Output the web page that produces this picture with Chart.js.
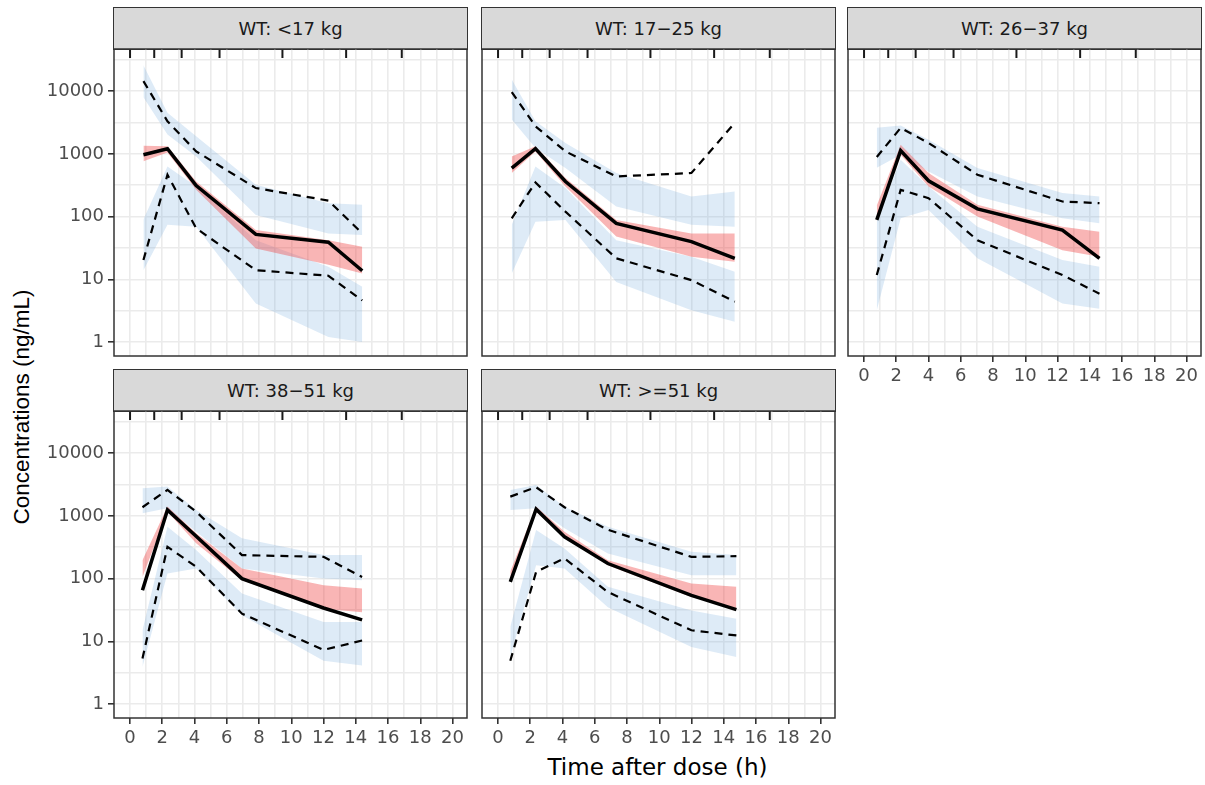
<!DOCTYPE html>
<html>
<head>
<meta charset="utf-8">
<title>VPC by weight band</title>
<script src="https://cdn.jsdelivr.net/npm/chart.js@4.4.1/dist/chart.umd.min.js"></script>
<style>
  html, body { margin: 0; padding: 0; background: #fff; }
  body { width: 1205px; height: 785px; position: relative; overflow: hidden; font-family: 'DejaVu Sans', sans-serif; }
  canvas { position: absolute; }
  .strip { position: absolute; box-sizing: border-box; background: #d9d9d9; border: 1.5px solid #333; color: #1a1a1a; font-size: 18px; display: flex; align-items: center; justify-content: center; }
  .xtitle { position: absolute; left: 114px; width: 1087px; top: 756px; text-align: center; font-size: 23px; line-height: 23px; color: #000; }
  .ytitle { position: absolute; left: -178px; width: 400px; top: 394px; height: 26px; line-height: 26px; text-align: center; font-family: 'Liberation Sans', Arial, sans-serif; font-size: 22.5px; color: #000; transform: rotate(-90deg); }
</style>
</head>
<body>
<div class="xtitle">Time after dose (h)</div>
<div class="ytitle">Concentrations (ng/mL)</div>
<script>
// facet labels
const panelLabels = ['WT: <17 kg', 'WT: 17\u221225 kg', 'WT: 26\u221237 kg', 'WT: 38\u221251 kg', 'WT: >=51 kg'];

// bin midpoints (h), one row per weight band
const binTime = [
  [0.83, 2.32, 4.1, 7.8, 12.3, 14.4],
  [0.85, 2.32, 4.18, 7.33, 11.99, 14.68],
  [0.79, 2.27, 4.0, 7.03, 12.3, 14.6],
  [0.77, 2.32, 4.1, 6.94, 12.0, 14.39],
  [0.76, 2.36, 4.12, 6.81, 11.99, 14.78]
];

// observed percentiles
const obsMedian = [
  [970, 1210, 313, 52, 39, 13.7],
  [595, 1211, 363, 78, 40, 21.6],
  [88.6, 1125, 373, 133, 61, 21.6],
  [65, 1243, 472, 100, 34, 22],
  [88.6, 1276, 465, 174, 54, 32]
];
const obsP95 = [
  [14450, 3311, 1096, 285, 180, 54],
  [9640, 2754, 1096, 437, 495, 3120],
  [892, 2595, 1494, 465, 174, 164],
  [1373, 2595, 1167, 237, 222, 106],
  [2028, 2868, 1373, 600, 222, 228]
];
const obsP5 = [
  [20.3, 465, 65, 14, 11.4, 4.6],
  [94, 350, 120, 21.6, 9.7, 4.4],
  [11.7, 267, 197, 42, 11.7, 5.9],
  [5.3, 321, 154, 27.6, 7.3, 10.3],
  [4.9, 128, 210, 61, 15, 12.4]
];

// simulated confidence bands
const simMedHi = [
  [1350, 1320, 363, 61, 42, 33],
  [912, 1318, 411, 88.6, 54, 54],
  [150, 1403, 495, 154, 69, 57.5],
  [197, 1413, 527, 145, 78, 69.5],
  [130, 1413, 559, 197, 83.5, 74]
];
const simMedLo = [
  [760, 1050, 267, 31, 17, 12.4],
  [495, 1096, 302, 48, 23, 19],
  [85, 971, 302, 100, 29, 23],
  [106, 1167, 365, 94, 33, 29],
  [88, 1167, 465, 164, 51, 33]
];
const simP95Hi = [
  [26000, 4510, 1905, 321, 164, 154],
  [15400, 3311, 1494, 495, 209, 251],
  [2600, 2826, 1687, 595, 237, 209],
  [2766, 2931, 1243, 438, 237, 237],
  [2595, 3120, 1403, 671, 267, 237]
];
const simP95Lo = [
  [8000, 2030, 912, 106, 54, 51],
  [3520, 1243, 595, 145, 74, 69],
  [600, 971, 525, 209, 94, 78],
  [1101, 1324, 559, 145, 100, 94],
  [1243, 1324, 634, 252, 113, 113]
];
const simP5Hi = [
  [90, 631, 302, 42, 15.8, 7.6],
  [74, 631, 285, 42, 23, 13.2],
  [88, 807, 302, 69, 20.3, 15.8],
  [15, 671, 285, 58, 20.3, 20.3],
  [17, 595, 303, 74, 31, 23]
];
const simP5Lo = [
  [14, 74, 69, 4.1, 1.2, 1.0],
  [12.4, 83, 88, 9.1, 3.2, 2.1],
  [3.2, 94, 128, 21.6, 4.1, 3.4],
  [3.9, 121, 145, 26, 4.9, 4.1],
  [5.6, 164, 145, 35, 8.1, 5.6]
];

// bin edges shown as rug on top
const rugEdges = [0, 1.5, 3.2, 5.55, 9.45, 13.4, 16.85];

// axes
const xMajor = [0, 2, 4, 6, 8, 10, 12, 14, 16, 18, 20];
const xMinor = [1, 3, 5, 7, 9, 11, 13, 15, 17, 19];
const yMajor = [1, 10, 100, 1000, 10000];
const yMinor = [3.162, 31.62, 316.2, 3162, 31623];
const X_MIN = -0.995, X_MAX = 20.895;
const Y_MIN = 0.599, Y_MAX = 47020;

const PINK = 'rgba(240, 60, 60, 0.38)';
const BLUE = 'rgba(90, 155, 213, 0.2)';
const GRID = '#ebebeb';
const NONE = 'rgba(0,0,0,0)';

const colLeft = [114, 482, 848];
const rowTop = [49, 411];
const PLOT_W = 353, PLOT_H = 307, STRIP_H = 42;
const Y_AXIS_W = 100, X_AXIS_H = 34, PAD = 4;

const pts = (xs, ys) => xs.map((x, k) => ({ x, y: ys[k] }));

const panelFrame = {
  id: 'panelFrame',
  afterDatasetsDraw(chart) {
    const { ctx, chartArea: a } = chart;
    const x = chart.scales.x;
    ctx.save();
    ctx.strokeStyle = '#1a1a1a';
    ctx.lineWidth = 2;
    rugEdges.forEach((v) => {
      const px = x.getPixelForValue(v);
      ctx.beginPath();
      ctx.moveTo(px, a.top);
      ctx.lineTo(px, a.top + 9);
      ctx.stroke();
    });
    ctx.strokeStyle = '#333';
    ctx.lineWidth = 1.5;
    ctx.strokeRect(a.left, a.top, a.right - a.left, a.bottom - a.top);
    ctx.restore();
  }
};

function band(hi, lo, t, color, hiIndex, order) {
  return [
    { data: pts(t, hi), borderWidth: 0, borderColor: NONE, fill: false, order },
    { data: pts(t, lo), borderWidth: 0, borderColor: NONE, backgroundColor: color, fill: hiIndex, order }
  ];
}

function buildPanel(i) {
  const row = i < 3 ? 0 : 1;
  const col = i < 3 ? i : i - 3;
  const showY = col === 0;
  const showX = i >= 2;
  const t = binTime[i];

  const strip = document.createElement('div');
  strip.className = 'strip';
  strip.textContent = panelLabels[i];
  strip.style.left = (colLeft[col] - 0.75) + 'px';
  strip.style.top = (rowTop[row] - STRIP_H) + 'px';
  strip.style.width = (PLOT_W + 1.5) + 'px';
  strip.style.height = (STRIP_H + 0.75) + 'px';
  document.body.appendChild(strip);

  const yW = showY ? Y_AXIS_W : 0;
  const xH = showX ? X_AXIS_H : 0;
  const canvas = document.createElement('canvas');
  canvas.width = yW + PLOT_W + 2 * PAD;
  canvas.height = PLOT_H + xH + 2 * PAD;
  canvas.style.left = (colLeft[col] - yW - PAD) + 'px';
  canvas.style.top = (rowTop[row] - PAD) + 'px';
  document.body.appendChild(canvas);

  const datasets = [
    { data: pts(t, obsMedian[i]), borderColor: '#000', borderWidth: 3.5, order: 0 },
    { data: pts(t, obsP95[i]), borderColor: '#000', borderWidth: 2.2, borderDash: [8, 6], order: 1 },
    { data: pts(t, obsP5[i]), borderColor: '#000', borderWidth: 2.2, borderDash: [8, 6], order: 1 },
    ...band(simMedHi[i], simMedLo[i], t, PINK, 3, 3),
    ...band(simP95Hi[i], simP95Lo[i], t, BLUE, 5, 4),
    ...band(simP5Hi[i], simP5Lo[i], t, BLUE, 7, 5)
  ];
  datasets.forEach((d) => {
    d.pointRadius = 0;
    d.tension = 0;
    if (d.fill === undefined) d.fill = false;
  });

  const tickFont = { family: 'DejaVu Sans', size: 18 };

  new Chart(canvas, {
    type: 'line',
    data: { datasets },
    options: {
      responsive: false,
      devicePixelRatio: 1,
      animation: false,
      layout: { padding: PAD },
      plugins: { legend: { display: false }, tooltip: { enabled: false } },
      scales: {
        x: {
          type: 'linear',
          min: X_MIN,
          max: X_MAX,
          afterBuildTicks: (s) => { s.ticks = [...xMajor, ...xMinor].sort((a, b) => a - b).map((v) => ({ value: v })); },
          afterFit: (s) => { s.height = xH; s.paddingLeft = 0; s.paddingRight = 0; },
          border: { display: false },
          grid: {
            color: GRID,
            lineWidth: 1.6,
            drawTicks: showX,
            tickLength: 6,
            tickColor: (c) => (c.tick && xMajor.includes(c.tick.value) ? '#333' : NONE)
          },
          ticks: {
            display: showX,
            autoSkip: false,
            maxRotation: 0,
            padding: 4,
            color: '#4d4d4d',
            font: tickFont,
            callback: (v) => (xMajor.includes(v) ? String(v) : '')
          }
        },
        y: {
          type: 'logarithmic',
          min: Y_MIN,
          max: Y_MAX,
          afterBuildTicks: (s) => { s.ticks = [...yMajor, ...yMinor].sort((a, b) => a - b).map((v) => ({ value: v })); },
          afterFit: (s) => { s.width = yW; s.paddingTop = 0; s.paddingBottom = 0; },
          border: { display: false },
          grid: {
            color: GRID,
            lineWidth: 1.6,
            drawTicks: showY,
            tickLength: 6,
            tickColor: (c) => (c.tick && yMajor.includes(c.tick.value) ? '#333' : NONE)
          },
          ticks: {
            display: showY,
            autoSkip: false,
            padding: 4,
            color: '#4d4d4d',
            font: tickFont,
            callback: (v) => (yMajor.includes(v) ? String(v) : '')
          }
        }
      }
    },
    plugins: [panelFrame]
  });
}

panelLabels.forEach((_, i) => buildPanel(i));
</script>
</body>
</html>
